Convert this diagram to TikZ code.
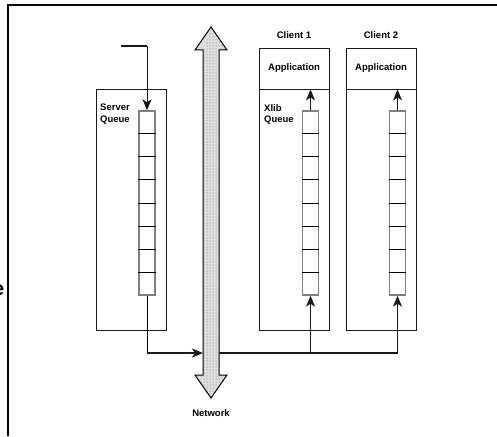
\documentclass[tikz,border=0pt]{standalone}
\usepackage{fontspec}
\setsansfont{Liberation Sans}
\usetikzlibrary{arrows.meta,positioning,calc,patterns}
\definecolor{figdark}{gray}{0.1}
\definecolor{cellgray}{gray}{0.5}
\tikzset{
  panel/.style={
    rectangle, draw=figdark, fill=white, line width=0.9pt,
    minimum width=70pt, inner sep=0pt
  },
  queue/.style={
    rectangle, draw=cellgray, line width=1.4pt, fill=white,
    minimum width=16pt, minimum height=184pt, inner sep=0pt
  },
  label/.style={
    font=\sffamily\bfseries\fontsize{9.5}{11.5}\selectfont,
    inner sep=0pt, align=left
  },
  msg/.style={-{Stealth[length=11pt,width=9pt,inset=3pt]}, line width=1pt, draw=figdark},
  bus/.style={line width=2pt, draw=figdark}
}

\begin{document}
\begin{tikzpicture}[x=1pt,y=-1pt]
  \useasboundingbox (0,0) rectangle (497,436);

  % page frame
  \draw[line width=1.5pt] (8,436) -- (8,5) -- (497,5);
  \node[font=\sffamily\bfseries\fontsize{20}{20}\selectfont, anchor=east, inner sep=0pt] (cut) at (4.5,290) {e};

  % server side
  \node[panel, minimum height=241pt] (srv) at (131,209.5) {};
  \node[queue] (sq) at (147,203) {};
  \node[label, anchor=north west] (srvlbl) at (100,104) {Server\\Queue};

  % clients
  \node[panel, minimum height=282pt] (c1) at (294,189) {};
  \node[panel, minimum height=282pt] (c2) at (381,189) {};
  \node[panel, minimum height=41pt, label] (app1) at (294,68.5) {Application};
  \node[panel, minimum height=41pt, label] (app2) at (381,68.5) {Application};
  \node[label, above=9pt of app1] (c1lbl) {Client 1};
  \node[label, above=9pt of app2] (c2lbl) {Client 2};
  \node[queue] (q1) at (310.5,203) {};
  \node[queue] (q2) at (397.5,203) {};
  \node[label, anchor=north west] (xlbl) at (264,104) {Xlib\\Queue};

  % queue slots
  \foreach \q in {sq,q1,q2}
    \foreach \i in {1,...,7}
      \draw[line width=1pt] ($(\q.north west)!\i/8!(\q.south west)$) -- ($(\q.north east)!\i/8!(\q.south east)$);

  % network backbone
  \draw[line width=1pt, fill=gray!25] (203,50) -- (195,50) -- (211,27) -- (227,50) -- (219,50)
    -- (219,375) -- (227,375) -- (211,398) -- (195,375) -- (203,375) -- cycle;
  \fill[pattern=dots, pattern color=gray!80!black] (204,47) -- (211,29) -- (226,49) -- (218,51)
    -- (218,376) -- (225,376) -- (211,396) -- (196,376) -- (204,376) -- cycle;
  \node[label] (net) at (211,413) {Network};
  \coordinate (netL) at (203,353);
  \coordinate (netR) at (219,353);

  % incoming requests
  \coordinate (in) at (121,46);
  \draw[bus] (in) -- (sq.north |- in);
  \draw[msg] (sq.north |- in) -- (sq.north);

  % server to clients
  \draw[line width=1pt] (sq.south) -- (sq.south |- netL);
  \draw[bus, -{Stealth[length=11pt,width=9pt,inset=3pt]}] (sq.south |- netL) -- (netL);
  \draw[bus] (netR) -- (q2.south |- netR);
  \draw[msg] (q1.south |- netR) -- (q1.south);
  \draw[msg] (q2.south |- netR) -- (q2.south);

  % into the applications
  \draw[msg] (q1.north) -- (q1.north |- app1.south);
  \draw[msg] (q2.north) -- (q2.north |- app2.south);
\end{tikzpicture}
\end{document}
